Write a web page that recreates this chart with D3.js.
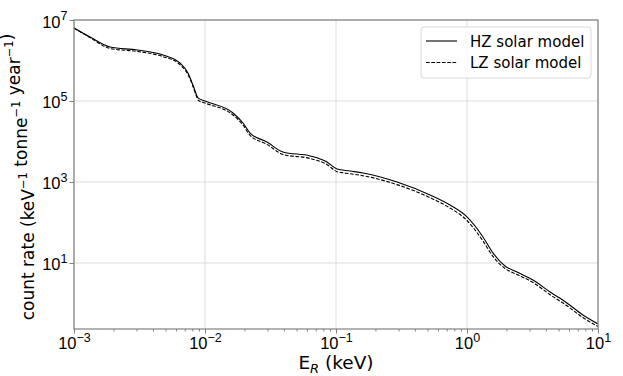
<!DOCTYPE html>
<html><head><meta charset="utf-8">
<script src="https://cdn.jsdelivr.net/npm/d3@7"></script>
<style>body{margin:0;background:#fff}svg{display:block;font-family:"DejaVu Sans",sans-serif}</style>
</head><body><svg id="chart" width="623" height="376"></svg>
<script>
// ---- data ----
const energyKeV = [0.001, 0.001324, 0.001884, 0.003027, 0.004775, 0.006442, 0.007413, 0.008091, 0.00869, 0.00885,
  0.01, 0.01637, 0.0195, 0.02208, 0.02972, 0.03936, 0.0634, 0.0853, 0.1019, 0.128, 0.1607, 0.2924, 0.5224, 0.7413,
  1.0, 1.324, 1.578, 1.95, 2.41, 3.19, 4.31, 5.79, 7.67, 10];
const hzRate = [6.31e6, 3.8e6, 2.15e6, 1.82e6, 1.37e6, 8.67e5, 4.91e5, 2.48e5, 1.33e5, 1.19e5,
  1.0e5, 5.06e4, 2.86e4, 1.62e4, 9.73e3, 5.51e3, 4.39e3, 3.12e3, 2.09e3, 1.87e3, 1.67e3, 1.0e3, 478, 270,
  137, 43.9, 17.7, 8.43, 6.0, 3.8, 1.92, 1.03, 0.52, 0.312];
const lzRate = [6.31e6, 3.7e6, 1.98e6, 1.68e6, 1.25e6, 7.9e5, 4.5e5, 2.3e5, 1.2e5, 1.05e5,
  8.9e4, 4.5e4, 2.55e4, 1.42e4, 8.5e3, 4.8e3, 3.8e3, 2.7e3, 1.8e3, 1.6e3, 1.43e3, 860, 410, 228,
  112, 35, 14.5, 7.3, 5.2, 3.3, 1.65, 0.88, 0.45, 0.27];
const seriesNames = ["HZ solar model", "LZ solar model"];
const xTickExps = [-3, -2, -1, 0, 1];
const yTickExps = [1, 3, 5, 7];
const xDomain = [1e-3, 10];
const yDomain = [Math.pow(10, -0.63), 1e7];

// ---- layout ----
const svg = d3.select("#chart");
const L = 74, R = 598, T = 20, B = 329;
const x = d3.scaleLog().domain(xDomain).range([L, R]);
const y = d3.scaleLog().domain(yDomain).range([B, T]);
const axisColor = "#808080";

// grid
const grid = svg.append("g");
grid.selectAll("line.vx").data(xTickExps).enter().append("line")
  .attr("x1", d => x(Math.pow(10, d))).attr("x2", d => x(Math.pow(10, d)))
  .attr("y1", T).attr("y2", B).attr("stroke", "#dcdcdc").attr("stroke-width", 1);
grid.selectAll("line.hy").data(yTickExps).enter().append("line")
  .attr("y1", d => y(Math.pow(10, d))).attr("y2", d => y(Math.pow(10, d)))
  .attr("x1", L).attr("x2", R).attr("stroke", "#dcdcdc").attr("stroke-width", 1);

// clip
svg.append("clipPath").attr("id", "clip").append("rect")
  .attr("x", L).attr("y", T).attr("width", R - L).attr("height", B - T);

const line = d3.line().x(d => x(d[0])).y(d => y(d[1])).curve(d3.curveMonotoneX);
const hzData = energyKeV.map((e, i) => [e, hzRate[i]]);
const lzData = energyKeV.map((e, i) => [e, lzRate[i]]);
const plot = svg.append("g").attr("clip-path", "url(#clip)");
plot.append("path").datum(lzData).attr("d", line).attr("fill", "none")
  .attr("stroke", "#000").attr("stroke-width", 1.1).attr("stroke-dasharray", "3.7,1.6");
plot.append("path").datum(hzData).attr("d", line).attr("fill", "none")
  .attr("stroke", "#000").attr("stroke-width", 1.1);

// x axis
const minorX = [];
for (let p = -3; p < 1; p++) for (let m = 2; m <= 9; m++) minorX.push(m * Math.pow(10, p));
svg.append("g").attr("transform", `translate(0,${B})`)
  .call(d3.axisBottom(x).tickValues(minorX).tickSize(2.5).tickFormat(""))
  .call(g => g.select(".domain").remove())
  .selectAll("line").attr("stroke", axisColor);
const xAx = svg.append("g").attr("transform", `translate(0,${B})`)
  .call(d3.axisBottom(x).tickValues(xTickExps.map(e => Math.pow(10, e))).tickSize(4.5).tickFormat(""));
xAx.select(".domain").remove();
xAx.selectAll("line").attr("stroke", axisColor);
xAx.selectAll(".tick").each(function (d, i) {
  const t = d3.select(this).append("text").attr("fill", "#000").attr("font-size", 16.5)
    .attr("text-anchor", "middle").attr("y", 20);
  t.append("tspan").text("10");
  t.append("tspan").attr("dy", -7.5).attr("font-size", 12.5)
    .text(xTickExps[i] < 0 ? "\u2212" + Math.abs(xTickExps[i]) : String(xTickExps[i]));
});

// y axis
const yAx = svg.append("g").attr("transform", `translate(${L},0)`)
  .call(d3.axisLeft(y).tickValues(yTickExps.map(e => Math.pow(10, e))).tickSize(4.5).tickFormat(""));
yAx.select(".domain").remove();
yAx.selectAll("line").attr("stroke", axisColor);
yAx.selectAll(".tick").each(function (d, i) {
  const t = d3.select(this).append("text").attr("fill", "#000").attr("font-size", 16.5)
    .attr("text-anchor", "end").attr("x", -6.5).attr("y", 7);
  t.append("tspan").text("10");
  t.append("tspan").attr("dy", -7.5).attr("font-size", 12.5).text(String(yTickExps[i]));
});

// frame
svg.append("rect").attr("x", L).attr("y", T).attr("width", R - L).attr("height", B - T)
  .attr("fill", "none").attr("stroke", axisColor).attr("stroke-width", 1.2);

// axis labels
const xl = svg.append("text").attr("x", (L + R) / 2).attr("y", 369).attr("text-anchor", "middle")
  .attr("font-size", 18.5);
xl.append("tspan").text("E");
xl.append("tspan").attr("dy", 4).attr("font-size", 13).attr("font-style", "italic").text("R");
xl.append("tspan").attr("dy", -4).text(" (keV)");

const yl = svg.append("text").attr("transform", `translate(34,177) rotate(-90)`)
  .attr("text-anchor", "middle").attr("font-size", 17);
const yParts = [["count rate (keV", "\u22121"], [" tonne", "\u22121"], [" year", "\u22121"]];
yParts.forEach(p => {
  yl.append("tspan").text(p[0]);
  yl.append("tspan").attr("dy", -7).attr("font-size", 11.5).text(p[1]);
  yl.append("tspan").attr("dy", 7).text("");
});
yl.append("tspan").text(")");

// legend
const lg = svg.append("g");
lg.append("rect").attr("x", 421).attr("y", 27).attr("width", 170).attr("height", 51).attr("rx", 3)
  .attr("fill", "#fff").attr("fill-opacity", 0.8).attr("stroke", "#d8d8d8").attr("stroke-width", 1);
seriesNames.forEach((n, i) => {
  const yy = 41 + i * 21.5;
  lg.append("line").attr("x1", 426).attr("x2", 457).attr("y1", yy).attr("y2", yy)
    .attr("stroke", "#000").attr("stroke-width", 1.1).attr("stroke-dasharray", i ? "3.7,1.6" : null);
  lg.append("text").attr("x", 470).attr("y", yy + 5.5).attr("font-size", 15).text(n);
});
</script></body></html>
